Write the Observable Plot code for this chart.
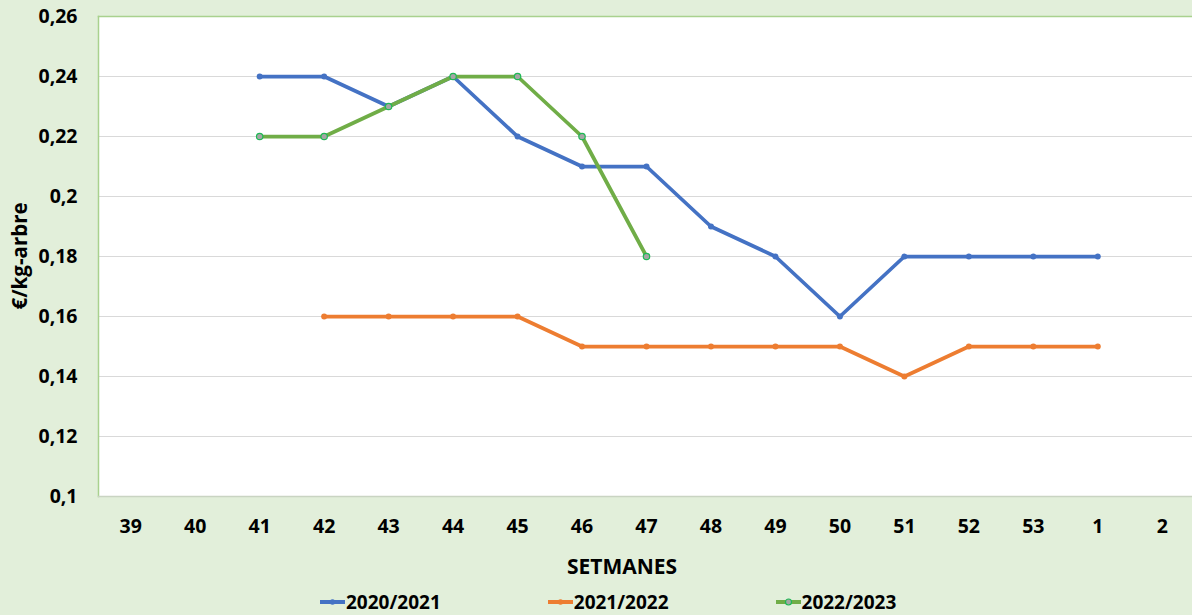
<!DOCTYPE html>
<html><head><meta charset="utf-8">
<script src="https://cdn.jsdelivr.net/npm/d3@7"></script>
<script src="https://cdn.jsdelivr.net/npm/@observablehq/plot@0.6"></script>
<style>
html,body{margin:0;padding:0;background:#E2EFDA;overflow:hidden;}
#wrap{position:relative;width:1192px;height:615px;overflow:hidden;font-family:"Open Sans",sans-serif;font-weight:700;color:#000;}
#chart{position:absolute;left:0;top:0;width:1194px;}
#chart svg{max-width:none !important;}
#ylabel{position:absolute;left:19px;top:256px;transform:translate(-50%,-50%) rotate(-90deg);font-size:20.5px;white-space:nowrap;}
#xlabel{position:absolute;left:622px;top:566px;transform:translate(-50%,-50%);font-size:21px;white-space:nowrap;}
#legend{position:absolute;left:320px;top:602px;transform:translateY(-50%);display:flex;gap:107px;font-size:19px;white-space:nowrap;}
.item{display:flex;align-items:center;}
.item svg{margin-right:1px;}
</style></head>
<body><div id="wrap"><div id="chart"></div><div id="ylabel"></div><div id="xlabel"></div><div id="legend"></div></div>
<script>
const weeks = ["39","40","41","42","43","44","45","46","47","48","49","50","51","52","53","1","2"];
const yTicks = [0.1,0.12,0.14,0.16,0.18,0.2,0.22,0.24,0.26];
const seriesNames = ["2020/2021","2021/2022","2022/2023"];
const seriesColors = ["#4472C4","#ED7D31","#70AD47"];

const weeks2020 = ["41","42","43","44","45","46","47","48","49","50","51","52","53","1"];
const values2020 = [0.24,0.24,0.23,0.24,0.22,0.21,0.21,0.19,0.18,0.16,0.18,0.18,0.18,0.18];
const weeks2021 = ["42","43","44","45","46","47","48","49","50","51","52","53","1"];
const values2021 = [0.16,0.16,0.16,0.16,0.15,0.15,0.15,0.15,0.15,0.14,0.15,0.15,0.15];
const weeks2022 = ["41","42","43","44","45","46","47"];
const values2022 = [0.22,0.22,0.23,0.24,0.24,0.22,0.18];

const yLabel = "€/kg-arbre";
const xLabel = "SETMANES";

const mk = (ws, vs, s) => ws.map((w,i)=>({week:w, value:vs[i], series:s}));
const d2020 = mk(weeks2020, values2020, seriesNames[0]);
const d2021 = mk(weeks2021, values2021, seriesNames[1]);
const d2022 = mk(weeks2022, values2022, seriesNames[2]);

const fmt = d => String(+d.toFixed(2)).replace(".", ",");

const chart = Plot.plot({
  width: 1194, height: 540,
  marginLeft: 98, marginRight: 0, marginTop: 16, marginBottom: 44,
  style: {fontFamily: "'Open Sans', sans-serif", background: "transparent", overflow: "visible", color: "#000", maxWidth: "none"},
  x: {type: "point", domain: weeks, padding: 0.5, round: false},
  y: {domain: [0.1, 0.26]},
  marks: [
    Plot.frame({fill: "#FFFFFF", stroke: "none"}),
    Plot.gridY(yTicks, {stroke: "#D9D9D9", strokeOpacity: 1, strokeWidth: 1}),
    Plot.axisX({tickSize: 0, tickPadding: 23, fontSize: 19.5, fontWeight: 700, label: null}),
    Plot.axisY(yTicks, {tickSize: 0, tickPadding: 21, fontSize: 19.5, fontWeight: 700, label: null, tickFormat: fmt}),
    Plot.frame({anchor: "left", stroke: "#A9D18E", strokeWidth: 1.5}),
    Plot.frame({anchor: "top", stroke: "#A9D18E", strokeWidth: 1.5}),
    Plot.frame({anchor: "bottom", stroke: "#C9D4C2", strokeWidth: 1.5}),
    Plot.line(d2020, {x: "week", y: "value", stroke: seriesColors[0], strokeWidth: 3.75}),
    Plot.dot(d2020, {x: "week", y: "value", fill: seriesColors[0], r: 3}),
    Plot.line(d2021, {x: "week", y: "value", stroke: seriesColors[1], strokeWidth: 3.75}),
    Plot.dot(d2021, {x: "week", y: "value", fill: seriesColors[1], r: 3}),
    Plot.line(d2022, {x: "week", y: "value", stroke: seriesColors[2], strokeWidth: 3.75}),
    Plot.dot(d2022, {x: "week", y: "value", fill: "#A5A5A5", stroke: "#1DB954", strokeWidth: 1.2, r: 3.2})
  ]
});
document.getElementById("chart").appendChild(chart);
document.getElementById("ylabel").textContent = yLabel;
document.getElementById("xlabel").textContent = xLabel;

const legend = document.getElementById("legend");
seriesNames.forEach((name, i) => {
  const item = document.createElement("div");
  item.className = "item";
  const isGreen = i === 2;
  const dot = isGreen
    ? `<circle cx="12.5" cy="5" r="3" fill="#A5A5A5" stroke="#1DB954" stroke-width="1.2"/>`
    : `<circle cx="12.5" cy="5" r="2.8" fill="${seriesColors[i]}"/>`;
  item.innerHTML = `<svg width="25" height="10"><line x1="0" x2="25" y1="5" y2="5" stroke="${seriesColors[i]}" stroke-width="4"/>${dot}</svg><span>${name}</span>`;
  legend.appendChild(item);
});
</script>
</body></html>
